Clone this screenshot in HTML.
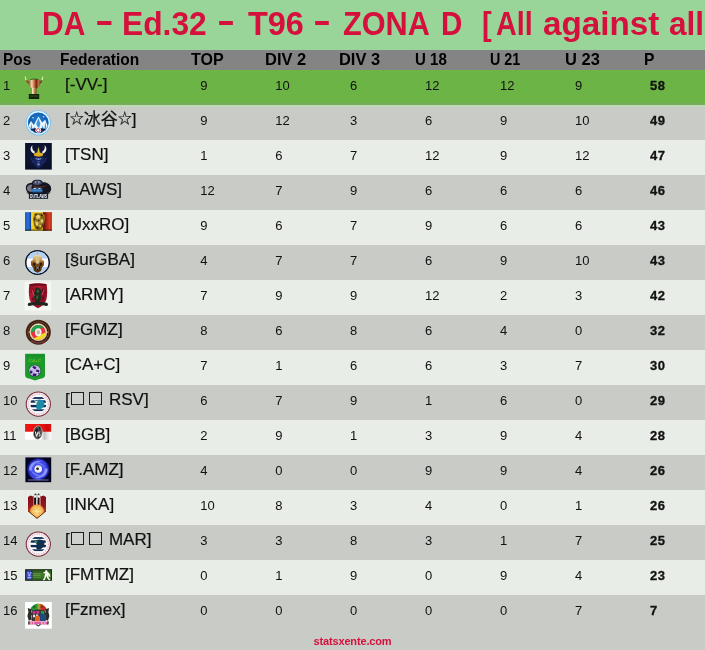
<!DOCTYPE html><html><head><meta charset="utf-8"><title>DA - Ed.32 - T96 - ZONA D</title><style>
html,body{margin:0;padding:0}
body{width:705px;height:650px;position:relative;overflow:hidden;background:#c8cbc6;font-family:"Liberation Sans","Noto Sans CJK SC",sans-serif}
.title{position:absolute;left:0;top:0;width:705px;height:50px;background:#99d499;color:#d6103c;font-weight:bold;font-size:33px;line-height:50px;white-space:nowrap;overflow:hidden}
.title span{position:absolute;top:-1px;transform-origin:0 50%;white-space:nowrap}
.title span.d{top:-4px}
.hdr{position:absolute;left:0;top:50px;width:705px;height:20px;background:#838483;color:#000;font-weight:bold;font-size:17px;line-height:20px}
.hdr span{position:absolute;top:0;white-space:nowrap;transform-origin:0 50%}
.row{position:absolute;left:0;width:705px;height:35px;line-height:35px;color:#111;font-size:13px}
.row.first{background:#6bb445}
.row.even{background:#c8cbc6}
.row.odd{background:#e9ede7}
.row span{position:absolute;top:-2px;white-space:nowrap}
.pos{left:3px}
.row svg.ico{position:absolute;left:18px;top:0;overflow:hidden}
.row span.fed{left:65px;font-size:17px;line-height:30px;top:0;-webkit-text-stroke:.2px #111}
.row span.p{left:650px;font-weight:bold;letter-spacing:.5px;-webkit-text-stroke:.3px #111}
.bx{display:inline-block;width:11px;height:11px;border:1px solid #1c1c1c;margin:0 2.5px 0 1.3px;background:rgba(255,255,255,.12)}
.bx+.bx{margin:0 2.2px 0 2.5px}
.foot{position:absolute;left:0;top:631px;width:705px;height:20px;line-height:20px;text-align:center;color:#d6103c;font-weight:bold;font-size:11px;letter-spacing:-.15px}
.st{font-weight:normal;font-size:14px;position:relative;top:-2px}
.row.first::after{content:"";position:absolute;left:0;top:33px;width:705px;height:2px;background:#79ad5b}
.row.first::before{content:"";position:absolute;left:0;top:35px;width:705px;height:2px;background:#c1d8b5;z-index:2}

</style></head><body>
<div class="title"><span style="left:41.98px;transform:scaleX(0.908)">DA</span> <span class="d" style="left:94.7px;transform:scaleX(1.7)">-</span> <span style="left:121.68px;transform:scaleX(0.962)">Ed.32</span> <span class="d" style="left:216.56px;transform:scaleX(1.644)">-</span> <span style="left:247.7px;transform:scaleX(0.982)">T96</span> <span class="d" style="left:313.37px;transform:scaleX(1.633)">-</span> <span style="left:343.3px;transform:scaleX(0.93)">ZONA</span> <span style="left:440.81px;transform:scaleX(0.895)">D</span> <span style="left:481.82px;transform:scaleX(0.88)">[</span> <span style="left:495.6px;transform:scaleX(0.87)">All</span> <span style="left:542.6px;transform:scaleX(1.007)">against</span> <span style="left:669.0px;transform:scaleX(0.956)">all</span> <span style="left:707.0px;transform:scaleX(0.8)">]</span> </div>
<div class="hdr"><span style="left:2.99px;transform:scaleX(0.905)">Pos</span><span style="left:59.69px;transform:scaleX(0.911)">Federation</span><span style="left:191.3px;transform:scaleX(0.942)">TOP</span><span style="left:264.53px;transform:scaleX(0.969)">DIV 2</span><span style="left:339.33px;transform:scaleX(0.967)">DIV 3</span><span style="left:415.11px;transform:scaleX(0.885)">U 18</span><span style="left:489.66px;transform:scaleX(0.842)">U 21</span><span style="left:565.03px;transform:scaleX(0.969)">U 23</span><span style="left:644.48px;transform:scaleX(0.92)">P</span></div>
<div class="row first" style="top:70px"><span class="pos">1</span><svg class="ico" width="40" height="35" viewBox="18 70 40 35"><defs><linearGradient id="g1a" x1="0" x2="1"><stop offset="0" stop-color="#7a4a24"/><stop offset=".28" stop-color="#f4d4ac"/><stop offset=".5" stop-color="#c4663a"/><stop offset=".66" stop-color="#74240e"/><stop offset=".85" stop-color="#b4764a"/><stop offset="1" stop-color="#6a4420"/></linearGradient>
<linearGradient id="g1b" x1="0" x2="1"><stop offset="0" stop-color="#7a5a28"/><stop offset=".3" stop-color="#fbe9bc"/><stop offset=".6" stop-color="#cc9458"/><stop offset="1" stop-color="#6a4a20"/></linearGradient></defs>
<path d="M25.3 76.6 C25.4 79.6 26.4 81.4 28.6 82.4" fill="none" stroke="#d4e8a0" stroke-width="1.2"/>
<path d="M42.7 76.6 C42.6 79.6 41.8 81.4 40.2 82.4" fill="none" stroke="#d4e8a0" stroke-width="1.2"/>
<path d="M26.4 80.2 C27.2 82.2 28.6 83.2 30.6 83.4 M41.8 80.2 C41.2 82.2 40.2 83.2 38.6 83.4" fill="none" stroke="#7a4a20" stroke-width="1.6"/>
<ellipse cx="34.4" cy="79.9" rx="4.4" ry="1.5" fill="#3a5e18"/>
<path d="M28.4 80.4 Q34.4 78.8 40.4 80.4 C40.6 84.4 38.8 87.4 37 88.6 L31.8 88.6 C30 87.4 28.2 84.4 28.4 80.4Z" fill="url(#g1a)"/>
<rect x="30.9" y="87.8" width="5.6" height="7" fill="url(#g1b)"/>
<rect x="28.8" y="94" width="10.4" height="5" fill="#14220a"/>
<rect x="29.6" y="95.4" width="8.8" height="1.3" fill="#2e4a16"/></svg><span class="fed">[-VV-]</span><span class="v" style="left:200.3px">9</span><span class="v" style="left:275.3px">10</span><span class="v" style="left:350px">6</span><span class="v" style="left:425px">12</span><span class="v" style="left:500px">12</span><span class="v" style="left:575px">9</span><span class="p">58</span></div>
<div class="row even" style="top:105px"><span class="pos">2</span><svg class="ico" width="40" height="35" viewBox="18 105 40 35"><defs><radialGradient id="g2a" cx=".5" cy=".35" r=".7"><stop offset="0" stop-color="#1f7cd0"/><stop offset="1" stop-color="#0c4c98"/></radialGradient><clipPath id="c2"><circle cx="38.3" cy="122.8" r="10"/></clipPath></defs>
<circle cx="38.3" cy="122.8" r="12.6" fill="#6fc3f2"/>
<circle cx="38.3" cy="122.8" r="11.7" fill="#e4f5ff"/>
<circle cx="38.3" cy="122.8" r="10.4" fill="#2a7fd0"/>
<circle cx="38.3" cy="122.8" r="10" fill="url(#g2a)"/>
<g clip-path="url(#c2)">
<path d="M38.4 116.4 L42.2 122.6 L45.2 119.8 L48 126.6 L48.6 132 L28.4 132 L28.8 125 L31 121 L33.8 125Z" fill="#eaf7ff"/>
<path d="M38.4 118.2 L40.4 123.4 L38.8 129.4 L36.2 124Z M45.2 121.8 L46.4 127.6 L44.4 130.4 Z M31.2 123.2 L32.4 128.6 L30.4 130.4Z M34.4 126.4 l1.4 3 l-1.6 .6z M42.4 125 l1 3.6 l-1.6 .6z" fill="#3f96dc"/>
<path d="M27 130.2 Q38.3 125.8 50 130.2 L50 134 L27 134Z" fill="#0e1c48"/>
<circle cx="38.3" cy="130.3" r="2.9" fill="#fff"/>
<circle cx="38.3" cy="130.3" r="1.7" fill="none" stroke="#e03048" stroke-width=".9"/>
<circle cx="33" cy="117.8" r=".8" fill="#cfeaff"/><circle cx="43.6" cy="116.8" r=".8" fill="#cfeaff"/>
</g></svg><span class="fed">[<b class="st">☆</b>冰谷<b class="st">☆</b>]</span><span class="v" style="left:200.3px">9</span><span class="v" style="left:275.3px">12</span><span class="v" style="left:350px">3</span><span class="v" style="left:425px">6</span><span class="v" style="left:500px">9</span><span class="v" style="left:575px">10</span><span class="p">49</span></div>
<div class="row odd" style="top:140px"><span class="pos">3</span><svg class="ico" width="40" height="35" viewBox="18 140 40 35"><defs><linearGradient id="g3a" x1="0" y1="0" x2="0" y2="1"><stop offset="0" stop-color="#6cb83a"/><stop offset=".3" stop-color="#d8c024"/><stop offset="1" stop-color="#e2a41a"/></linearGradient><radialGradient id="g3b" cx=".5" cy=".45" r=".6"><stop offset="0" stop-color="#121a44"/><stop offset="1" stop-color="#0a1028"/></radialGradient></defs>
<rect x="25.1" y="143" width="26.7" height="26.6" fill="url(#g3b)"/>
<path d="M32.4 145.2 C29.8 147.6 29.8 151.4 33.8 153.6 L35.2 152 C32.6 150.6 31.8 148.2 32.4 145.2Z" fill="#f2f2e8"/>
<path d="M44.6 145.2 C47.2 147.6 47.2 151.4 43.2 153.6 L41.8 152 C44.4 150.6 45.2 148.2 44.6 145.2Z" fill="#f2f2e8"/>
<path d="M38.5 146.6 L39.8 152.6 L43.2 153.4 L42.6 156 L38.5 156.8 L34.4 156 L33.8 153.4 L37.2 152.6Z" fill="url(#g3a)"/>
<path d="M34 156.4 L32.4 159 L35 166 L38.5 168.4 L42 166 L44.6 159 L43 156.4 L38.5 157.6Z" fill="#182460"/>
<path d="M37.3 158.2 h2.4 v1.8 h-2.4z M37.5 161.4 h2 v.8 h-2z M37.3 163.4 h2.4 v1.8 h-2.4z" fill="#7a98d8"/>
<path d="M35.4 158 l1.4 .6 l-.4 1.2z M41.6 158 l-1.4 .6 l.4 1.2z" fill="#c8d4f0"/>
<path d="M30.6 157.6 L33.6 163.4 M46.4 157.6 L43.4 163.4" stroke="#2a3478" stroke-width="1" fill="none"/></svg><span class="fed">[TSN]</span><span class="v" style="left:200.3px">1</span><span class="v" style="left:275.3px">6</span><span class="v" style="left:350px">7</span><span class="v" style="left:425px">12</span><span class="v" style="left:500px">9</span><span class="v" style="left:575px">12</span><span class="p">47</span></div>
<div class="row even" style="top:175px"><span class="pos">4</span><svg class="ico" width="40" height="35" viewBox="18 175 40 35"><defs><linearGradient id="g4a" x1="0" y1="0" x2="0" y2="1"><stop offset="0" stop-color="#1c4a84"/><stop offset=".5" stop-color="#3a86c8"/><stop offset="1" stop-color="#16355e"/></linearGradient></defs>
<path d="M25.8 188 C25.8 184.4 28.6 182.8 31.4 183 C32.6 180.2 35 179.2 37.6 179.8 C40 179.2 42 180.2 42.8 182.4 C46.8 182 50.8 184.4 51.2 188.4 C51.4 190.8 50 192.4 47.4 192.8 L43 193.6 L30.6 193.6 C27.6 193 25.8 191 25.8 188Z" fill="#14151f"/>
<path d="M32.8 183.4 C33.6 181 35.6 180.2 37.6 180.6 C39.8 180.2 41.4 181.2 42 183.6 C39.6 185.4 35.4 185.4 32.8 183.4Z" fill="#4a5270"/>
<path d="M34.6 181.4 C36 180.4 38.6 180.4 39.8 181.4 L39.2 183.2 L35.6 183.2Z" fill="#8e98b8"/>
<path d="M36.6 181 l1.6 .2 l-.4 2.6 l-1.4 0z" fill="#3a3f58"/>
<path d="M26.8 188.2 C27.2 185.6 29.6 184.2 32.4 184.6 C31.2 186.6 31.2 189.6 32.6 191.8 C29.4 192 26.8 190.8 26.8 188.2Z" fill="#747882"/>
<path d="M32.6 184.8 C37 186.8 42.4 186.4 47 185.2 C45 187.8 38 188.8 33.4 187.4Z" fill="#4a2c26"/>
<path d="M31.8 188.8 C35 187.6 39.6 187.6 42.4 188.6 L42.4 193.2 L31.8 193.2Z" fill="url(#g4a)"/>
<path d="M32.8 188.6 L36 187.8 L35.4 189.2Z M38.4 188 L41.2 188.4 L38.8 189.2Z" fill="#eef2fa"/>
<path d="M26.2 192.4 L50.8 192.4 L48.2 194 L28.8 194Z" fill="#14151f"/>
<rect x="28.9" y="193.2" width="19.2" height="5.6" fill="#121a2c"/>
<text x="38.5" y="197.9" font-family="Liberation Sans, sans-serif" font-weight="bold" font-size="5" fill="#fff" text-anchor="middle" textLength="17.4" lengthAdjust="spacingAndGlyphs">OUTLAWS</text></svg><span class="fed">[LAWS]</span><span class="v" style="left:200.3px">12</span><span class="v" style="left:275.3px">7</span><span class="v" style="left:350px">9</span><span class="v" style="left:425px">6</span><span class="v" style="left:500px">6</span><span class="v" style="left:575px">6</span><span class="p">46</span></div>
<div class="row odd" style="top:210px"><span class="pos">5</span><svg class="ico" width="40" height="35" viewBox="18 210 40 35"><defs><linearGradient id="g5a" x1="0" x2="1"><stop offset="0" stop-color="#1850b0"/><stop offset=".5" stop-color="#2a74e0"/><stop offset="1" stop-color="#143c88"/></linearGradient><linearGradient id="g5b" x1="0" x2="1"><stop offset="0" stop-color="#42100e"/><stop offset=".4" stop-color="#a82416"/><stop offset=".75" stop-color="#d84020"/><stop offset="1" stop-color="#a42814"/></linearGradient><radialGradient id="g5c" cx=".5" cy=".5" r=".6"><stop offset="0" stop-color="#b89a38"/><stop offset=".7" stop-color="#7a5a14"/><stop offset="1" stop-color="#c8a018"/></radialGradient></defs>
<rect x="25.1" y="212.2" width="26.7" height="18.5" fill="#e8c41c"/>
<rect x="25.1" y="212.2" width="6" height="18.5" fill="url(#g5a)"/>
<rect x="43" y="212.2" width="8.8" height="18.5" fill="url(#g5b)"/>
<path d="M33.6 214 L36 212.8 L39 213.2 L42 213 L44.4 215 L45 219 L44 224 L42.4 228.4 L39 230 L35.6 229 L33.8 225 L33 219Z" fill="url(#g5c)"/>
<path d="M31.4 213 L33.8 213 L32.8 219 L33.8 226 L32 230 L31.1 224Z" fill="#f4d428"/>
<path d="M35.6 216 l2.4 -1.6 l2.6 1.6 l-1.2 2.6 l-2.6 .2z M40.6 220 l2.2 -1 l.6 2.6 l-1.8 1.8z M35.2 221.6 l2.8 .6 l.4 3 l-2.4 .4z M38.6 225.6 l2.6 -.6 l-.6 2.6z" fill="#e6d070"/>
<path d="M34.6 213.6 l2.4 .8 l-1 1.6z M41 214 l2 1.4 l-2 1z M38 219.4 l2 1 l-1.6 1.4z M36 227 l3 .6 l-2 1.4z M33.8 218 l1.4 1 l-1 1.4z M42.6 224 l1 1.6 l-1.6 .6z" fill="#2a1c08"/>
<rect x="25.1" y="229.6" width="26.7" height="1.1" fill="#1a1208" opacity=".7"/></svg><span class="fed">[UxxRO]</span><span class="v" style="left:200.3px">9</span><span class="v" style="left:275.3px">6</span><span class="v" style="left:350px">7</span><span class="v" style="left:425px">9</span><span class="v" style="left:500px">6</span><span class="v" style="left:575px">6</span><span class="p">43</span></div>
<div class="row even" style="top:245px"><span class="pos">6</span><svg class="ico" width="40" height="35" viewBox="18 245 40 35"><defs><clipPath id="c6"><circle cx="37.5" cy="262.5" r="11"/></clipPath><linearGradient id="g6a" x1="0" y1="0" x2="0" y2="1"><stop offset="0" stop-color="#f0e4b8"/><stop offset=".3" stop-color="#c89a50"/><stop offset=".5" stop-color="#7a4e1c"/><stop offset="1" stop-color="#4a2c0c"/></linearGradient></defs>
<circle cx="37.5" cy="262.5" r="12.5" fill="#0a1428"/>
<g clip-path="url(#c6)">
<rect x="25" y="250" width="25" height="25" fill="#fdfdff"/>
<rect x="25" y="250" width="25" height="8.6" fill="#b4d0f2"/>
<rect x="25" y="267" width="25" height="9" fill="#b4d0f2"/>
</g>
<path d="M37.5 251.2 L38 255.4 L37 255.4Z" fill="#8a8478"/>
<path d="M37.5 254.4 C40.4 254.8 42 257.2 42.2 259.8 L44.2 261.2 L43.8 265.4 L42 267.6 L41 271 L37.5 272.8 L34 271 L33 267.6 L31.2 265.4 L30.8 261.2 L32.8 259.8 C33 257.2 34.6 254.8 37.5 254.4Z" fill="url(#g6a)"/>
<path d="M35.6 258.6 L37.5 257.6 L39.4 258.6 L39.2 263 L37.5 264 L35.8 263Z" fill="#d8c08c"/>
<path d="M33.6 262 L35.4 263.6 L35 266 L33 265Z M41.4 262 L39.6 263.6 L40 266 L42 265Z" fill="#2a1806"/>
<path d="M34.8 265.8 L37.5 267.4 L40.2 265.8 L40 269 L37.5 270.6 L35 269Z" fill="#20140a"/>
<path d="M36 266.6 L39 269.4 M39 266.6 L36 269.4" stroke="#e0d8c8" stroke-width=".6"/></svg><span class="fed">[§urGBA]</span><span class="v" style="left:200.3px">4</span><span class="v" style="left:275.3px">7</span><span class="v" style="left:350px">7</span><span class="v" style="left:425px">6</span><span class="v" style="left:500px">9</span><span class="v" style="left:575px">10</span><span class="p">43</span></div>
<div class="row odd" style="top:280px"><span class="pos">7</span><svg class="ico" width="40" height="35" viewBox="18 280 40 35"><defs><linearGradient id="g7a" x1="0" y1="0" x2="1" y2="1"><stop offset="0" stop-color="#7c1020"/><stop offset=".35" stop-color="#b81a32"/><stop offset=".6" stop-color="#8a1224"/><stop offset="1" stop-color="#a8162c"/></linearGradient></defs>
<rect x="24.6" y="282" width="26.6" height="28.6" fill="#f4f7f2"/>
<path d="M29.4 284 Q38 282.6 46.6 284 C47.4 289 47.4 295 46.4 299.6 C45 304 41.6 306.8 38 308.2 C34.4 306.8 31 304 29.6 299.6 C28.6 295 28.6 289 29.4 284Z" fill="url(#g7a)"/>
<path d="M29.8 284.2 Q38 282.8 46.2 284.2 L46 286.2 Q38 285 30 286.2Z" fill="#6a0c1a"/>
<path d="M31 288 l3 1 l-1 4 l-2 -1z M42 288 l3 1.4 l-.6 4 l-2.4 -1z M31.6 297 l2.4 1 l0 3 l-2 -1z M42 297 l2.6 -.4 l-1 3.6 l-1.6 .4z" fill="#5e0e1a" opacity=".8"/>
<path d="M35 288.4 L37 287.2 L39.4 288.2 L41.8 291 L40.6 295 L41.2 298.6 L39 302 L35.4 302 L34.2 298 L33.2 294.6 L34.8 292Z" fill="#1c2c1e"/>
<path d="M36.6 290 L38.6 289.4 L39.4 292 L37.4 293.4Z M36 296 L38.6 295 L38 299 L36.4 299.6Z" fill="#3e5c34"/>
<path d="M31.8 289.4 L34.4 296 M44.2 289.4 L42 295" stroke="#e04860" stroke-width=".9"/>
<path d="M28.2 303 Q38 300.6 47.4 303 L47 306 Q38 303.8 28.6 306Z" fill="#20281f"/>
<circle cx="29.2" cy="304.6" r="1.4" fill="#20281f"/><circle cx="46.6" cy="304.6" r="1.4" fill="#20281f"/></svg><span class="fed">[ARMY]</span><span class="v" style="left:200.3px">7</span><span class="v" style="left:275.3px">9</span><span class="v" style="left:350px">9</span><span class="v" style="left:425px">12</span><span class="v" style="left:500px">2</span><span class="v" style="left:575px">3</span><span class="p">42</span></div>
<div class="row even" style="top:315px"><span class="pos">8</span><svg class="ico" width="40" height="35" viewBox="18 315 40 35"><defs><clipPath id="c8"><circle cx="38.3" cy="332.3" r="7.4"/></clipPath></defs>
<circle cx="38.3" cy="332.2" r="12.5" fill="#4e2a18"/>
<circle cx="38.3" cy="332.2" r="11.6" fill="#3a1a10"/>
<circle cx="38.3" cy="332.2" r="10.4" fill="none" stroke="#8e6e44" stroke-width=".9" stroke-dasharray="1.2 .8"/>
<circle cx="38.3" cy="332.2" r="8.9" fill="#cdbd94"/>
<circle cx="38.3" cy="332.2" r="8.2" fill="#f0e8d0"/>
<g clip-path="url(#c8)">
<rect x="30" y="324" width="17" height="17" fill="#e8343c"/>
<path d="M30 324 L47 324 L47 325.2 L30 333.2Z" fill="#1ea24e"/>
<path d="M47 341 L30 341 L30 340.4 L47 331.4Z" fill="#f2dc1e"/>
<ellipse cx="38.3" cy="332.3" rx="3.3" ry="4" fill="#f6eeee"/>
<ellipse cx="38.3" cy="332.3" rx="1.6" ry="2.2" fill="#c4b49c"/>
</g>
<path d="M28.4 332.2 h2 M46.2 332.2 h2" stroke="#d8c9a2" stroke-width=".8"/>
<path d="M31 340.8 Q38.3 345.6 45.6 340.8" stroke="#7a3a58" stroke-width="1" fill="none"/></svg><span class="fed">[FGMZ]</span><span class="v" style="left:200.3px">8</span><span class="v" style="left:275.3px">6</span><span class="v" style="left:350px">8</span><span class="v" style="left:425px">6</span><span class="v" style="left:500px">4</span><span class="v" style="left:575px">0</span><span class="p">32</span></div>
<div class="row odd" style="top:350px"><span class="pos">9</span><svg class="ico" width="40" height="35" viewBox="18 350 40 35"><defs><clipPath id="c9"><circle cx="34.8" cy="370.8" r="5.6"/></clipPath></defs>
<path d="M25.1 353.8 L45 353.8 L45 375 C45 377.4 43.6 378.2 41 378.6 L35 380.4 L29.2 378.6 C26.6 378.2 25.1 377.4 25.1 375Z" fill="#1c9a2c"/>
<path d="M26 354.6 L44.2 354.6 L44.2 357 L26 357Z" fill="#189026"/>
<text x="35" y="362.2" font-family="Liberation Sans, sans-serif" font-weight="bold" font-size="3.6" fill="#6cba22" text-anchor="middle" textLength="13" lengthAdjust="spacingAndGlyphs">CA+C</text>
<circle cx="34.8" cy="370.8" r="6.3" fill="#136a24"/>
<g clip-path="url(#c9)">
<rect x="29" y="365" width="12" height="12" fill="#c4b6ea"/>
<path d="M33 366 l3.4 1 l-1 2.2 l-3 -.6z M36.4 369.6 l3 .6 l-.4 2.4 l-3 -.6z M30 370.6 l2.6 .6 l-.6 2.4 l-2.4 -.4z M33 373.6 l3.6 .2 l-.6 3 l-3.4 -.6z M38 373 l2.6 .4 l-1 2.6z" fill="#35186c"/>
<path d="M31 368 l3 1 M35 372 l3 .8" stroke="#e8e0fa" stroke-width=".8"/>
</g></svg><span class="fed">[CA+C]</span><span class="v" style="left:200.3px">7</span><span class="v" style="left:275.3px">1</span><span class="v" style="left:350px">6</span><span class="v" style="left:425px">6</span><span class="v" style="left:500px">3</span><span class="v" style="left:575px">7</span><span class="p">30</span></div>
<div class="row even" style="top:385px"><span class="pos">10</span><svg class="ico" width="40" height="35" viewBox="18 385 40 35"><defs><clipPath id="c10"><circle cx="38.3" cy="404.1" r="8"/></clipPath></defs>
<circle cx="38.3" cy="404.1" r="12.6" fill="#7a2434"/>
<circle cx="38.3" cy="404.1" r="11.6" fill="#fbf2f5"/>
<circle cx="38.3" cy="404.1" r="10.1" fill="none" stroke="#b890a8" stroke-width="1.3" stroke-dasharray="1.1 1.3" opacity=".6"/>
<g clip-path="url(#c10)">
<rect x="29" y="395.1" width="19" height="18" fill="#fdfdff"/>
<rect x="29" y="397.1" width="19" height="1.8" fill="#0c2a54"/>
<rect x="29" y="400.3" width="19" height="2.4" fill="#0c2a54"/>
<rect x="29" y="404.9" width="19" height="2.4" fill="#0c2a54"/>
<rect x="29" y="409.3" width="19" height="1.8" fill="#0c2a54"/>
<path d="M36.4 400.1 C39.4 398.7 44 399.5 44.4 403.1 C44.8 406.5 42 409.5 38.4 409.7 C36 409.1 35.4 406.9 36.8 404.9 C35.8 403.1 35.6 401.5 36.4 400.1Z" fill="#1c8ca6"/>
<path d="M34 400.5 L38 401.3 L36.2 403.7Z" fill="#e0d8c0"/>
</g></svg><span class="fed">[<i class="bx"></i><i class="bx"></i> RSV]</span><span class="v" style="left:200.3px">6</span><span class="v" style="left:275.3px">7</span><span class="v" style="left:350px">9</span><span class="v" style="left:425px">1</span><span class="v" style="left:500px">6</span><span class="v" style="left:575px">0</span><span class="p">29</span></div>
<div class="row odd" style="top:420px"><span class="pos">11</span><svg class="ico" width="40" height="35" viewBox="18 420 40 35"><defs><linearGradient id="g11a" x1="0" x2="1"><stop offset="0" stop-color="#fff"/><stop offset=".6" stop-color="#fff"/><stop offset=".74" stop-color="#c2c2c2"/><stop offset=".86" stop-color="#e4e4e4"/><stop offset="1" stop-color="#fff"/></linearGradient><linearGradient id="g11r" x1="0" x2="1"><stop offset="0" stop-color="#ee1414"/><stop offset=".7" stop-color="#e61010"/><stop offset=".85" stop-color="#c80c0c"/><stop offset="1" stop-color="#e41010"/></linearGradient><linearGradient id="g11b" x1="0" y1="0" x2="1" y2="1"><stop offset="0" stop-color="#9a9a9a"/><stop offset=".35" stop-color="#141414"/><stop offset=".6" stop-color="#5a5a5a"/><stop offset="1" stop-color="#0c0c0c"/></linearGradient></defs>
<rect x="25.1" y="424" width="26.1" height="7.9" fill="url(#g11r)"/>
<rect x="25.1" y="431.8" width="26.1" height="7.9" fill="url(#g11a)"/>
<ellipse cx="37.8" cy="432.6" rx="4.5" ry="6.8" fill="url(#g11b)" transform="rotate(6 37.8 432.6)"/>
<ellipse cx="37.8" cy="432.6" rx="4.5" ry="6.8" fill="none" stroke="#e8e8e8" stroke-width=".5" transform="rotate(6 37.8 432.6)"/>
<path d="M35.2 431.4 L36.6 436.4 L38.2 431.6 M39.6 432 c-1.4 .6 -1 1.6 0 2 c1 .4 1 1.8 -.6 2.2" stroke="#f6f6f6" stroke-width="1" fill="none"/>
<path d="M37 427.4 l1 -1 l1 1.6 l-.8 1.6z" fill="#2a8a5a"/><path d="M37.8 429.4 l1 .4 l-.4 1.4z" fill="#9a4ac0"/></svg><span class="fed">[BGB]</span><span class="v" style="left:200.3px">2</span><span class="v" style="left:275.3px">9</span><span class="v" style="left:350px">1</span><span class="v" style="left:425px">3</span><span class="v" style="left:500px">9</span><span class="v" style="left:575px">4</span><span class="p">28</span></div>
<div class="row even" style="top:455px"><span class="pos">12</span><svg class="ico" width="40" height="35" viewBox="18 455 40 35"><defs><radialGradient id="g12a" cx=".5" cy=".5" r=".5"><stop offset="0" stop-color="#2a34c8"/><stop offset=".55" stop-color="#4a58f0"/><stop offset=".8" stop-color="#3038d8"/><stop offset="1" stop-color="#080848"/></radialGradient></defs>
<rect x="25.4" y="457.4" width="25.8" height="24.8" fill="#030322"/>
<circle cx="38.3" cy="469.4" r="11.4" fill="url(#g12a)"/>
<path d="M29 470 C29 463 36 459.6 42 461.6 C36 462 32 465 31.6 471Z M47.6 469 C47.6 476 40.6 479.4 34.6 477.4 C40.6 477 44.6 474 45 468Z" fill="#98a2ff" opacity=".85"/>
<path d="M33 462.6 C38 461 44.6 463.6 45.4 469 C43 465 38 463.4 33 462.6Z M43.6 476.2 C38.6 477.8 32 475.2 31.2 469.8 C33.6 473.8 38.6 475.4 43.6 476.2Z" fill="#7884fa" opacity=".85"/>
<path d="M30.6 474.4 C32 477.6 36 479.4 40 478.6 M46 464.4 C44.6 461.2 40.6 459.6 36.6 460.4" stroke="#5a66f0" stroke-width="1" fill="none" opacity=".8"/>
<circle cx="38.2" cy="469" r="3.8" fill="#f2f2f8"/>
<path d="M36 466.4 l2.4 -.8 l2 1.4 M35.4 471.4 l2.4 1.4 l2.6 -1" stroke="#b4b4cc" stroke-width=".7" fill="none"/>
<circle cx="37.6" cy="468.8" r="1.4" fill="#14101c"/>
<circle cx="37.9" cy="469.1" r=".5" fill="#c8a030"/>
<rect x="28" y="479.6" width="20.6" height=".8" fill="#c4c8e8" opacity=".75"/></svg><span class="fed">[F.AMZ]</span><span class="v" style="left:200.3px">4</span><span class="v" style="left:275.3px">0</span><span class="v" style="left:350px">0</span><span class="v" style="left:425px">9</span><span class="v" style="left:500px">9</span><span class="v" style="left:575px">4</span><span class="p">26</span></div>
<div class="row odd" style="top:490px"><span class="pos">13</span><svg class="ico" width="40" height="35" viewBox="18 490 40 35"><defs><linearGradient id="g13a" x1="0" y1="0" x2="0" y2="1"><stop offset="0" stop-color="#7a0c16"/><stop offset=".5" stop-color="#9a1820"/><stop offset=".75" stop-color="#b04a20"/><stop offset="1" stop-color="#c07030"/></linearGradient><radialGradient id="g13b" cx=".5" cy=".5" r=".5"><stop offset="0" stop-color="#fdeaa4"/><stop offset=".55" stop-color="#f6c866"/><stop offset=".85" stop-color="#ec9a40"/><stop offset="1" stop-color="#d86a2c" stop-opacity="0"/></radialGradient><clipPath id="c13"><path d="M28 497 L30.6 495.4 L33 496.4 L35 494.8 L39 494.8 L41 496.4 L43.4 495.4 L46 497 L46 511 L37 518.4 L28 511Z"/></clipPath></defs>
<path d="M28 497 L30.6 495.4 L33 496.4 L35 494.8 L39 494.8 L41 496.4 L43.4 495.4 L46 497 L46 511 L37 518.4 L28 511Z" fill="url(#g13a)"/>
<g clip-path="url(#c13)">
<rect x="33.6" y="494" width="6.8" height="12.4" fill="#f6f2f0"/>
<rect x="34.1" y="497.4" width="2.1" height="7.8" rx=".8" fill="#1a0c0c"/>
<rect x="37.5" y="497.4" width="2.1" height="7.8" rx=".8" fill="#2a1010"/>
<path d="M36 494.6 L38 494.6 L37.6 500 L36.4 500Z" fill="#b4c6c2"/>
<circle cx="37" cy="511.4" r="7.6" fill="url(#g13b)"/>
<path d="M33.4 508.6 l1.8 1.8 M40.6 508.6 l-1.8 1.8 M37 507.4 v2.4 M33.6 513.4 l2.4 -.6 M40.4 513.4 l-2.4 -.6" stroke="#e89a40" stroke-width=".7"/>
</g>
<circle cx="35.4" cy="494.3" r=".9" fill="#2a2a2a"/><circle cx="38.6" cy="494.3" r=".9" fill="#2a2a2a"/>
<path d="M28 511 L37 518.4 L46 511" fill="none" stroke="#6a3210" stroke-width="1"/></svg><span class="fed">[INKA]</span><span class="v" style="left:200.3px">10</span><span class="v" style="left:275.3px">8</span><span class="v" style="left:350px">3</span><span class="v" style="left:425px">4</span><span class="v" style="left:500px">0</span><span class="v" style="left:575px">1</span><span class="p">26</span></div>
<div class="row even" style="top:525px"><span class="pos">14</span><svg class="ico" width="40" height="35" viewBox="18 525 40 35"><defs><clipPath id="c14"><circle cx="38.3" cy="544.1" r="8"/></clipPath></defs>
<circle cx="38.3" cy="544.1" r="12.6" fill="#7a2434"/>
<circle cx="38.3" cy="544.1" r="11.6" fill="#fbf2f5"/>
<circle cx="38.3" cy="544.1" r="10.1" fill="none" stroke="#b890a8" stroke-width="1.3" stroke-dasharray="1.1 1.3" opacity=".6"/>
<g clip-path="url(#c14)">
<rect x="29" y="535.1" width="19" height="18" fill="#fdfdff"/>
<rect x="29" y="537.1" width="19" height="1.8" fill="#0c2a54"/>
<rect x="29" y="540.3" width="19" height="2.4" fill="#0c2a54"/>
<rect x="29" y="544.9" width="19" height="2.4" fill="#0c2a54"/>
<rect x="29" y="549.3" width="19" height="1.8" fill="#0c2a54"/>
<path d="M36.4 540.1 C39.4 538.7 44 539.5 44.4 543.1 C44.8 546.5 42 549.5 38.4 549.7 C36 549.1 35.4 546.9 36.8 544.9 C35.8 543.1 35.6 541.5 36.4 540.1Z" fill="#12304c"/>
<path d="M34 540.5 L38 541.3 L36.2 543.7Z" fill="#3c8a5c"/>
</g></svg><span class="fed">[<i class="bx"></i><i class="bx"></i> MAR]</span><span class="v" style="left:200.3px">3</span><span class="v" style="left:275.3px">3</span><span class="v" style="left:350px">8</span><span class="v" style="left:425px">3</span><span class="v" style="left:500px">1</span><span class="v" style="left:575px">7</span><span class="p">25</span></div>
<div class="row odd" style="top:560px"><span class="pos">15</span><svg class="ico" width="40" height="35" viewBox="18 560 40 35"><defs><linearGradient id="g15a" x1="0" y1="0" x2="0" y2="1"><stop offset="0" stop-color="#264f18"/><stop offset=".5" stop-color="#447c2a"/><stop offset="1" stop-color="#2a5a18"/></linearGradient><radialGradient id="g15b" cx=".5" cy=".5" r=".6"><stop offset="0" stop-color="#8c98f8"/><stop offset=".6" stop-color="#3640c0"/><stop offset="1" stop-color="#182080"/></radialGradient></defs>
<rect x="25.1" y="569.2" width="26.9" height="11.6" fill="#0e1c08"/>
<rect x="25.8" y="569.9" width="25.5" height="10.2" fill="url(#g15a)"/>
<rect x="26.2" y="570.4" width="6.2" height="9.2" fill="url(#g15b)"/>
<path d="M27.4 572 h1.4 v1.4 h-1.4z M30 572 h1.4 v1.4 h-1.4z M28.6 574.4 h1.6 v1.6 h-1.6z M27.2 577 h4.2 v1.6 h-4.2z" fill="#b8c0ff" opacity=".8"/>
<path d="M33.4 573.6 h7.6 M33.4 575.4 h7 M33.4 577.4 h7.6" stroke="#86b066" stroke-width=".6" opacity=".8"/>
<path d="M45.6 570 C46.8 569.8 47.6 570.6 47.4 571.6 L49.4 573.6 L50.4 576.6 L49.6 577 L48.4 575 L48.8 578 L50.6 580 L49 580.2 L47.2 578.2 L46.4 576 L45 579.6 L43.6 580 L44.6 576 L45.2 573 L43.6 573.4 L43.2 572.6 L45.2 571.6Z" fill="#f8faf4"/>
<circle cx="44" cy="579.4" r=".9" fill="#f8faf4"/></svg><span class="fed">[FMTMZ]</span><span class="v" style="left:200.3px">0</span><span class="v" style="left:275.3px">1</span><span class="v" style="left:350px">9</span><span class="v" style="left:425px">0</span><span class="v" style="left:500px">9</span><span class="v" style="left:575px">4</span><span class="p">23</span></div>
<div class="row even" style="top:595px"><span class="pos">16</span><svg class="ico" width="40" height="35" viewBox="18 595 40 35"><defs><linearGradient id="g16a" x1="0" x2="1"><stop offset="0" stop-color="#1a8a34"/><stop offset=".42" stop-color="#2e9e36"/><stop offset=".52" stop-color="#c8a82c"/><stop offset=".66" stop-color="#d83424"/><stop offset="1" stop-color="#b82420"/></linearGradient></defs>
<rect x="25.1" y="602" width="26.7" height="26.7" fill="#fff"/>
<path d="M30 610 C31.4 606 34.6 603.8 38.3 603.6 C42 603.8 45.6 606 47 610 L42.4 611.4 L38.3 609.6 L34.2 611.4Z" fill="url(#g16a)"/>
<path d="M33 606.4 l2 -.8 l.6 2 l-2 1z M41 605.6 l2 .8 l-.6 2.2 l-2 -1z" fill="#14401c" opacity=".6"/>
<path d="M27.8 608 L31.6 609.4 L31.2 612 L32.4 614 L31 616 L31.8 619.4 L28.8 620.8 L27.4 616 L28.4 612Z" fill="#2a2c28"/>
<path d="M49 608 L45.2 609.4 L45.6 612 L44.4 614 L45.8 616 L45 619.4 L48 620.8 L49.4 616 L48.4 612Z" fill="#2a2c28"/>
<path d="M31.6 610.4 L38.3 609.2 L45 610.4 L45.2 621 L31.6 621Z" fill="#3a3438"/>
<path d="M32.4 611.4 l2.8 -.4 l.4 2.2 l-2.6 1z M36.4 611 l3.2 .2 l-.6 2.6 l-2.8 -.4z" fill="#c83a88"/>
<path d="M41 610.8 l3.4 .6 l-.4 2.8 l-3 -.6z" fill="#2e9a48"/>
<path d="M33 615 l2 -.4 l.2 2.4 l-2 .6z M36 614.4 h2.2 v2 h-2.2z" fill="#f0f0ec"/>
<path d="M40 613.8 L45.8 614.4 L46 620.8 L40.4 621Z" fill="#1c4c86"/>
<path d="M35 616.6 C36.4 615 39 615.2 40 617 L40 621.2 L34.8 621.2Z" fill="#e2631e"/>
<path d="M28 621.4 L48.8 621.4 L48.4 624.4 L28.4 624.4Z" fill="#e05aa0"/>
<path d="M28 621.4 l1.6 0 l0 3 l-1.4 0z M47.2 621.4 l1.6 0 l-.4 3 l-1.2 0z" fill="#2a5a30"/>
<path d="M30.4 622.2 h1.4 v1.5 h-1.4z M33 622.2 h1.2 v1.5 h-1.2z M41 622.2 h1.6 v1.5 h-1.6z M44 622.2 h1.4 v1.5 h-1.4z" fill="#f6d8e8" opacity=".8"/>
<path d="M35.2 624.4 L41.4 624.4 L38.3 626.6Z" fill="#22201e"/>
<circle cx="38.3" cy="624.6" r=".8" fill="#fff"/></svg><span class="fed">[Fzmex]</span><span class="v" style="left:200.3px">0</span><span class="v" style="left:275.3px">0</span><span class="v" style="left:350px">0</span><span class="v" style="left:425px">0</span><span class="v" style="left:500px">0</span><span class="v" style="left:575px">7</span><span class="p">7</span></div>
<div class="foot">statsxente.com</div>
</body></html>
